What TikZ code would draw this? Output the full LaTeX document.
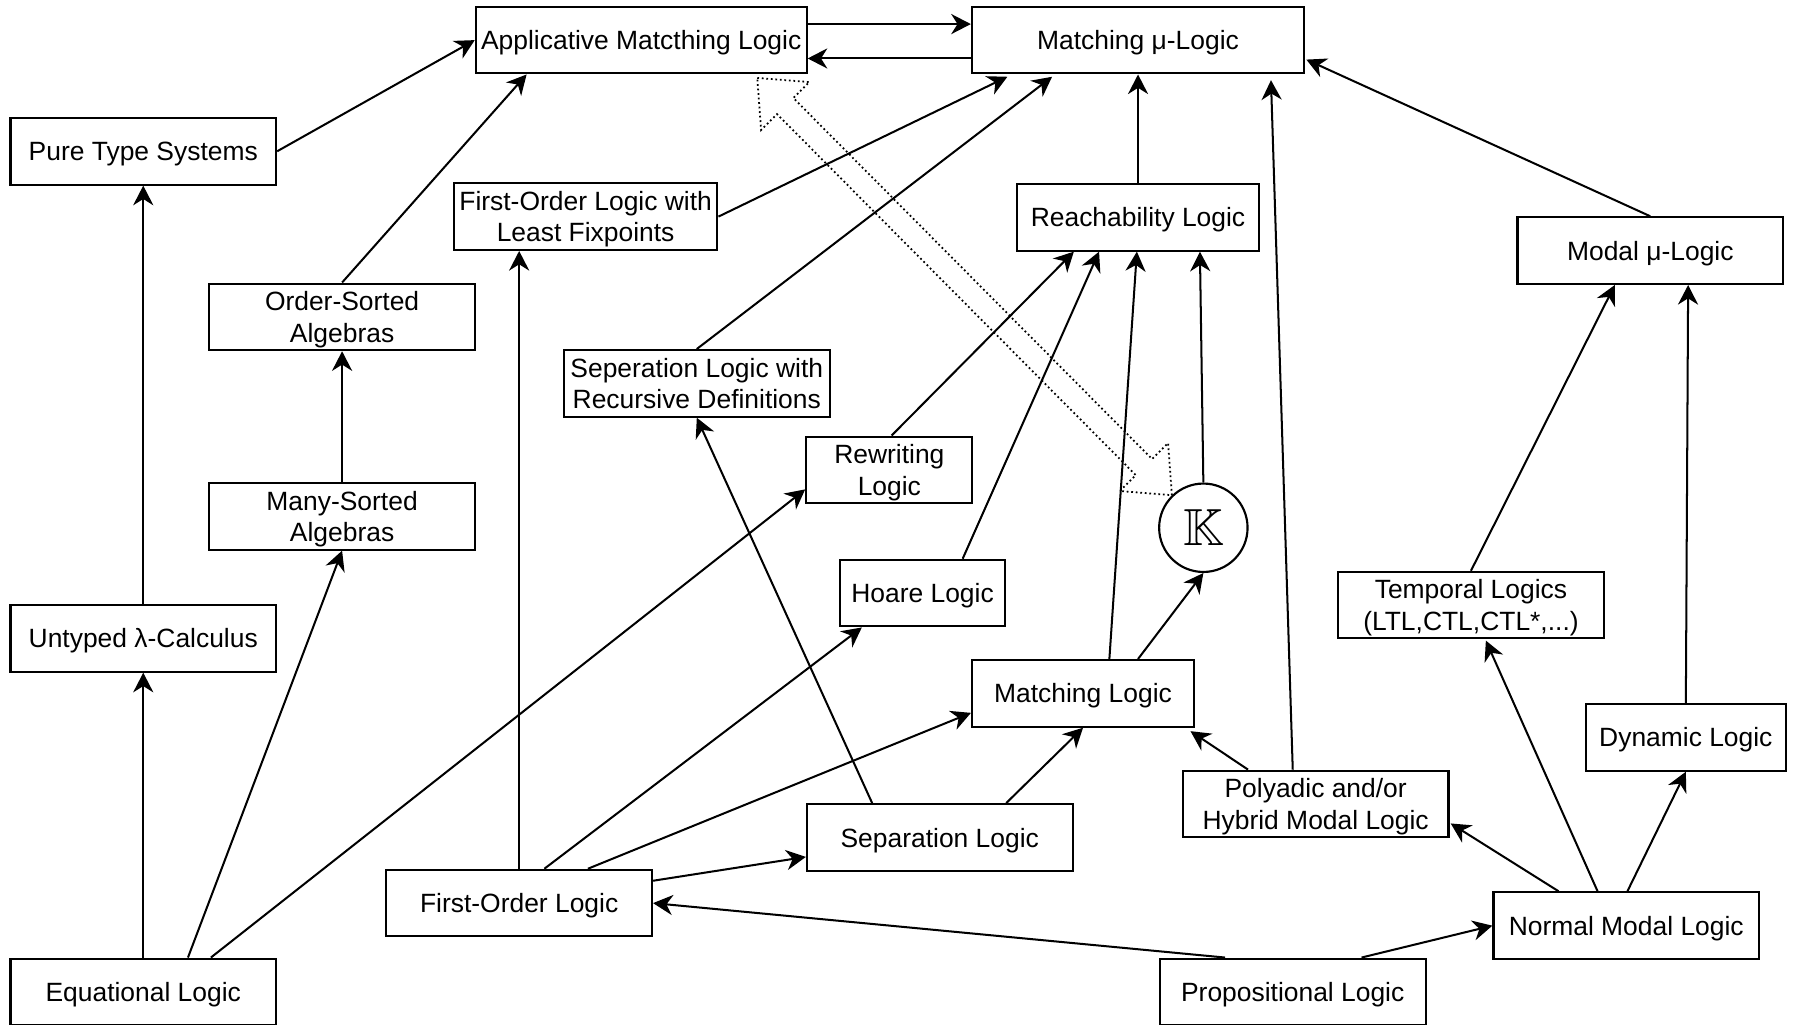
\documentclass[tikz,border=0pt]{standalone}
\usepackage{amssymb}
\usepackage{fontspec}
\setmainfont{Liberation Sans}
\usetikzlibrary{
	arrows.meta,
	calc
}

\begin{document}
\begin{tikzpicture}[x=0.016cm, y=-0.016cm,
		logic/.style={draw=black, line width=0.85pt, minimum width=3.71cm,
			minimum height=0.93cm, align=center, inner sep=1pt, text depth=0pt,
			font={\fontsize{10.5}{12.5}\selectfont}},
		imp/.style={line width=0.8pt, -{Stealth[length=7.8pt,width=8pt,inset=2.5pt]}},
		hollow/.style={line width=0.7pt, dash pattern=on 0.7pt off 1.1pt}]
		\useasboundingbox (0, 0) rectangle (1568, 894);

		\node[logic,minimum width=4.62cm] at (559.5, 35) (applicative-ml)
			{Applicative Matcthing Logic};
		\node[logic,minimum width=4.64cm] at (993, 35) (matching-mu)
			{Matching μ-Logic};
		\node[logic] at (125, 132) (pure-types)
			{Pure Type Systems};
		\node[logic,minimum width=3.68cm] at (511, 189) (fol-lfp)
			{First-Order Logic with \\ Least Fixpoints};
		\node[logic,minimum width=3.39cm] at (993, 189.6) (reachability)
			{Reachability Logic};
		\node[logic] at (1440, 218.7) (modal-mu)
			{Modal μ-Logic};
		\node[logic] at (298.5, 276.5) (order-sorted)
			{Order-Sorted \\ Algebras};
		\node[logic] at (608, 334.5) (sep-rec)
			{Seperation Logic with \\ Recursive Definitions};
		\node[logic,minimum width=2.32cm] at (776, 410) (rewriting)
			{Rewriting \\ Logic};
		\node[logic] at (298.5, 450.5) (many-sorted)
			{Many-Sorted \\ Algebras};
		\node[draw=black,line width=0.85pt,circle,minimum size=1.235cm,inner sep=0pt]
			at (1050, 460.5) (k-framework)
			{\fontsize{20.74}{24}\selectfont$\mathbb{K}$};
		\node[logic,minimum width=2.30cm] at (805, 517.5) (hoare)
			{Hoare Logic};
		\node[logic] at (1283.5, 528) (temporal)
			{Temporal Logics \\ (LTL,CTL,CTL*,...)};
		\node[logic] at (125, 557) (untyped-lambda)
			{Untyped λ-Calculus};
		\node[logic,minimum width=3.10cm] at (945, 605) (matching)
			{Matching Logic};
		\node[logic,minimum width=2.80cm] at (1471, 643.4) (dynamic)
			{Dynamic Logic};
		\node[logic] at (1148, 701.5) (polyadic)
			{Polyadic and/or \\ Hybrid Modal Logic};
		\node[logic] at (820, 730.7) (separation)
			{Separation Logic};
		\node[logic] at (453, 788) (first-order)
			{First-Order Logic};
		\node[logic] at (1419, 807.7) (normal-modal)
			{Normal Modal Logic};
		\node[logic] at (125, 865.5) (equational)
			{Equational Logic};
		\node[logic] at (1128, 865.5) (propositional)
			{Propositional Logic};

		% left column
		\draw[imp] (pure-types.east) -- (applicative-ml.west);
		\draw[imp] (order-sorted.north) -- ($(applicative-ml.south)+(-100,0)$);
		\draw[imp] (untyped-lambda) -- (pure-types);
		\draw[imp] (equational) -- (untyped-lambda);
		\draw[imp] ($(equational.north)+(39,0)$) -- (many-sorted.south);
		\draw[imp] (many-sorted) -- (order-sorted);
		\draw[imp] ($(equational.north)+(59,0)$) -- ($(rewriting.west)+(0,17)$);

		% top row
		\draw[imp] ($(applicative-ml.east)+(0,-14)$) -- ($(matching-mu.west)+(0,-14)$);
		\draw[imp] ($(matching-mu.west)+(0,16)$) -- ($(applicative-ml.east)+(0,16)$);
		\draw[imp] (fol-lfp.east) -- ($(matching-mu.south)+(-114,2)$);
		\draw[imp] (sep-rec.north) -- ($(matching-mu.south)+(-75,2)$);
		\draw[imp] (reachability) -- (matching-mu);
		\draw[imp] ($(polyadic.north)+(-20,0)$) -- ($(matching-mu.south)+(116,5)$);
		\draw[imp] (modal-mu.north) -- ($(matching-mu.east)+(1,17)$);

		% into reachability
		\draw[imp] ($(rewriting.north)+(2,0)$) -- ($(reachability.south)+(-56,0)$);
		\draw[imp] ($(hoare.north)+(35,0)$) -- ($(reachability.south)+(-34,0)$);
		\draw[imp] ($(matching.north)+(23,0)$) -- ($(reachability.south)+(-1,0)$);
		\draw[imp] (k-framework.north) -- ($(reachability.south)+(54,0)$);
		\draw[imp] ($(matching.north)+(48,0)$) -- (k-framework.south);

		% first-order logic
		\draw[imp] (first-order.north) -- ($(fol-lfp.south)+(-58,0)$);
		\draw[imp] ($(first-order.north)+(22,0)$) -- ($(hoare.south)+(-53,0)$);
		\draw[imp] ($(first-order.north)+(60,0)$) -- ($(matching.west)+(0,17)$);
		\draw[imp] ($(first-order.east)+(0,-19.5)$) -- ($(separation.west)+(0,17)$);
		\draw[imp] ($(separation.north)+(-59,0)$) -- (sep-rec.south);
		\draw[imp] ($(separation.north)+(58,0)$) -- (matching.south);
		\draw[imp] ($(polyadic.north)+(-59,0)$) -- ($(matching.south east)+(-4,3)$);

		% modal side
		\draw[imp] ($(propositional.north)+(-59,0)$) -- (first-order.east);
		\draw[imp] ($(propositional.north)+(60,0)$) -- (normal-modal.west);
		\draw[imp] ($(normal-modal.north)+(-59,0)$) -- ($(polyadic.east)+(1,17)$);
		\draw[imp] ($(normal-modal.north)+(-25,0)$) -- ($(temporal.south)+(13,1)$);
		\draw[imp] ($(normal-modal.north)+(1,0)$) -- (dynamic.south);
		\draw[imp] (temporal.north) -- ($(modal-mu.south)+(-31,0)$);
		\draw[imp] (dynamic.north) -- ($(modal-mu.south)+(33,0)$);

		% hollow double arrow
		\coordinate (dbl-a) at ($(applicative-ml.south east)+(-44,3)$);
		\coordinate (dbl-b) at (k-framework.134);
		\draw[hollow] (dbl-a)
			-- ($(dbl-a)!0.554cm!(dbl-b)!0.475cm!90:(dbl-b)$)
			-- ($(dbl-a)!0.554cm!(dbl-b)!0.16cm!90:(dbl-b)$)
			-- ($(dbl-b)!0.554cm!(dbl-a)!0.16cm!-90:(dbl-a)$)
			-- ($(dbl-b)!0.554cm!(dbl-a)!0.475cm!-90:(dbl-a)$)
			-- (dbl-b)
			-- ($(dbl-b)!0.554cm!(dbl-a)!0.475cm!90:(dbl-a)$)
			-- ($(dbl-b)!0.554cm!(dbl-a)!0.16cm!90:(dbl-a)$)
			-- ($(dbl-a)!0.554cm!(dbl-b)!0.16cm!-90:(dbl-b)$)
			-- ($(dbl-a)!0.554cm!(dbl-b)!0.475cm!-90:(dbl-b)$)
			-- cycle;
	\end{tikzpicture}
\end{document}
